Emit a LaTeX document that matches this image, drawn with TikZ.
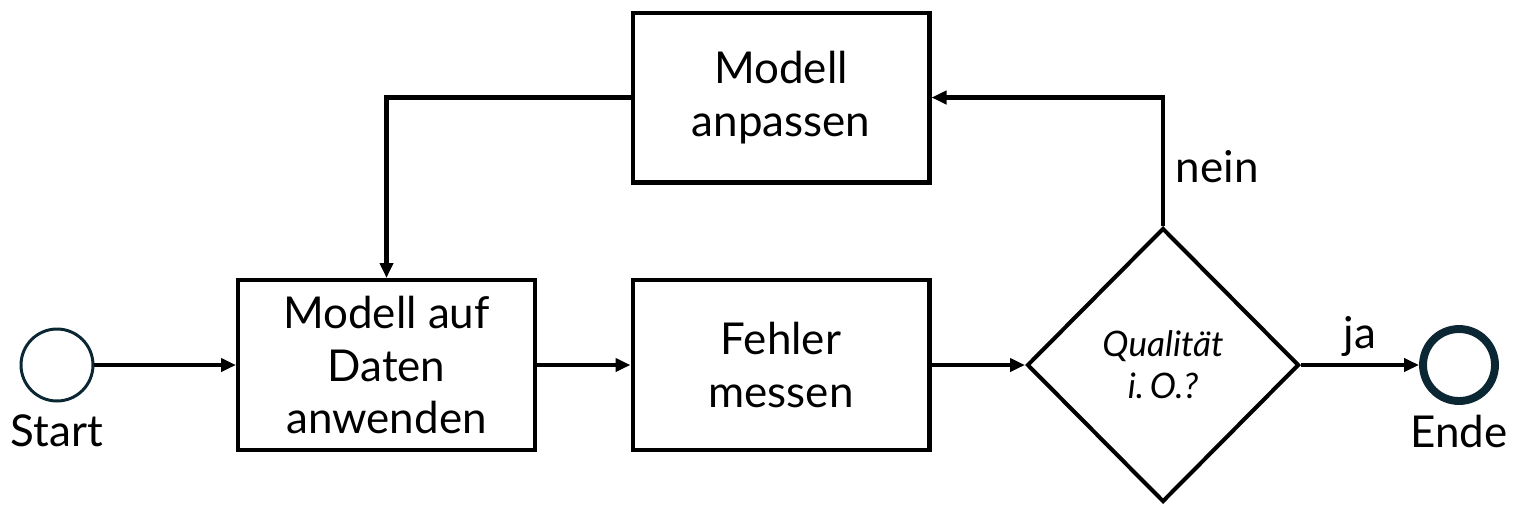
\documentclass[tikz,border=0pt]{standalone}
\usepackage{fontspec}
\setmainfont{Lato}
\usetikzlibrary{positioning,arrows.meta,shapes.geometric}
\definecolor{inkteal}{HTML}{0B2733}

\begin{document}
\begin{tikzpicture}[
    x=0.02cm, y=-0.02cm,
    every node/.style={font=\fontsize{25}{30}\selectfont},
    proc/.style={draw, line width=2.3pt, minimum width=5.94cm, minimum height=3.4cm, align=center, inner sep=0pt},
    decision/.style={draw, diamond, line width=2.3pt, minimum width=5.44cm, minimum height=5.48cm, inner sep=0pt, align=center, font=\fontsize{20}{24}\selectfont\itshape},
    startev/.style={draw=inkteal, circle, line width=1.7pt, minimum size=1.44cm, inner sep=0pt},
    endev/.style={draw=inkteal, circle, line width=4.5pt, minimum size=1.44cm, inner sep=0pt},
    flow/.style={line width=2.3pt, -{Triangle[length=0.3cm, width=0.26cm]}}
]
    \useasboundingbox (0,0) rectangle (1517,515);

    % Events
    \node[startev] (start) at (57,365) {};
    \node[below=0.12cm of start] (startlbl) {Start};
    \node[endev] (ende) at (1459,365) {};
    \node[below=0.08cm of ende] (endelbl) {Ende};

    % Process steps
    \node[proc] (apply) at (386.5,365) {Modell auf\\Daten\\anwenden};
    \node[proc] (measure) at (781,365) {Fehler\\messen};
    \node[proc] (adjust) at (781,97.5) {Modell\\anpassen};

    % Quality check
    \node[decision] (check) at (1163,365) {Qualität\\i.\,O.?};

    % Main flow
    \draw[flow] (start) -- (apply);
    \draw[flow] (apply) -- (measure);
    \draw[flow] (measure) -- (check);
    \draw[flow] (check) -- node[above=0.02cm] {ja} (ende);

    % Feedback loop
    \draw[flow] (check.north) |- node[pos=0.23, right=0.1cm] {nein} (adjust.east);
    \draw[flow] (adjust.west) -| (apply.north);

\end{tikzpicture}
\end{document}
